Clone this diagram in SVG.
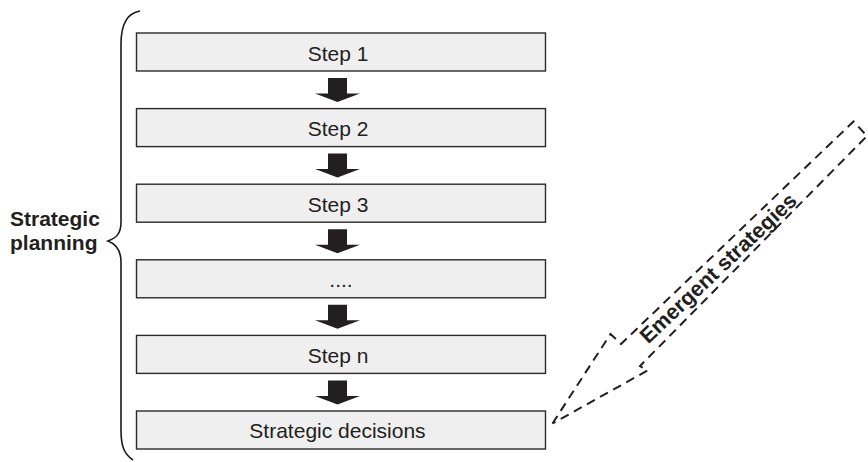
<svg xmlns="http://www.w3.org/2000/svg" width="868" height="462" viewBox="0 0 868 462">
  <style>
    .box { fill: #efefef; stroke: #2b2b2b; stroke-width: 1.4; }
    .label { font-family: "Liberation Sans", Arial, sans-serif; font-size: 21px; fill: #231f20; text-anchor: middle; }
    .bold { font-family: "Liberation Sans", Arial, sans-serif; font-weight: bold; fill: #231f20; }
    .brace { fill: none; stroke: #1a1a1a; stroke-width: 1.6; }
    .flow { fill: #231f20; }
    .emergent { fill: none; stroke: #231f20; stroke-width: 2; stroke-dasharray: 9 6; stroke-linejoin: miter; }
  </style>
  <defs>
    <!-- short block arrow, origin at the top centre of the shaft -->
    <polygon id="down-arrow" class="flow" points="-9.5,0 9.5,0 9.5,15.5 22.5,15.5 0,24 -22.5,15.5 -9.5,15.5"/>
  </defs>
  <rect width="868" height="462" fill="#ffffff"/>

  <!-- curly brace grouping the planning steps -->
  <g id="planning-brace">
    <path class="brace" d="M140,11 C128,13 121,24 121,44 L121,222 C121,234 116,238 108,241 C116,244 121,250 121,262 L121,430 C121,446 124,454 133,460"/>
    <text class="bold" font-size="21" x="10" y="226">Strategic</text>
    <text class="bold" font-size="21" x="10" y="250">planning</text>
  </g>

  <g id="step-1">
    <rect class="box" x="136.5" y="33" width="409" height="38"/>
    <text class="label" x="338" y="60.5">Step 1</text>
  </g>
  <g id="step-2">
    <rect class="box" x="136.5" y="108.6" width="409" height="38"/>
    <text class="label" x="338" y="136">Step 2</text>
  </g>
  <g id="step-3">
    <rect class="box" x="136.5" y="184.2" width="409" height="38"/>
    <text class="label" x="338" y="211.6">Step 3</text>
  </g>
  <g id="step-ellipsis">
    <rect class="box" x="136.5" y="259.8" width="409" height="38"/>
    <text class="label" x="341" y="287.2">....</text>
  </g>
  <g id="step-n">
    <rect class="box" x="136.5" y="335.4" width="409" height="38"/>
    <text class="label" x="338" y="362.8">Step n</text>
  </g>
  <g id="strategic-decisions">
    <rect class="box" x="136.5" y="411" width="409" height="38"/>
    <text class="label" x="337.5" y="437.5">Strategic decisions</text>
  </g>

  <g id="connectors">
    <use href="#down-arrow" transform="translate(337.5,78)"/>
    <use href="#down-arrow" transform="translate(337.5,153.6)"/>
    <use href="#down-arrow" transform="translate(337.5,229.2)"/>
    <use href="#down-arrow" transform="translate(337.5,304.8)"/>
    <use href="#down-arrow" transform="translate(337.5,380.4)"/>

    <!-- dashed block arrow feeding into the decisions -->
    <g id="emergent-strategies">
      <polygon class="emergent" points="552.5,423.5 610.5,334 621,344 853.5,121.5 867,136 640,366 647.5,370.5"/>
      <text class="bold" font-size="21.5" text-anchor="middle" transform="translate(718,268) rotate(-43.5)" y="7.5">Emergent strategies</text>
    </g>
  </g>
</svg>
